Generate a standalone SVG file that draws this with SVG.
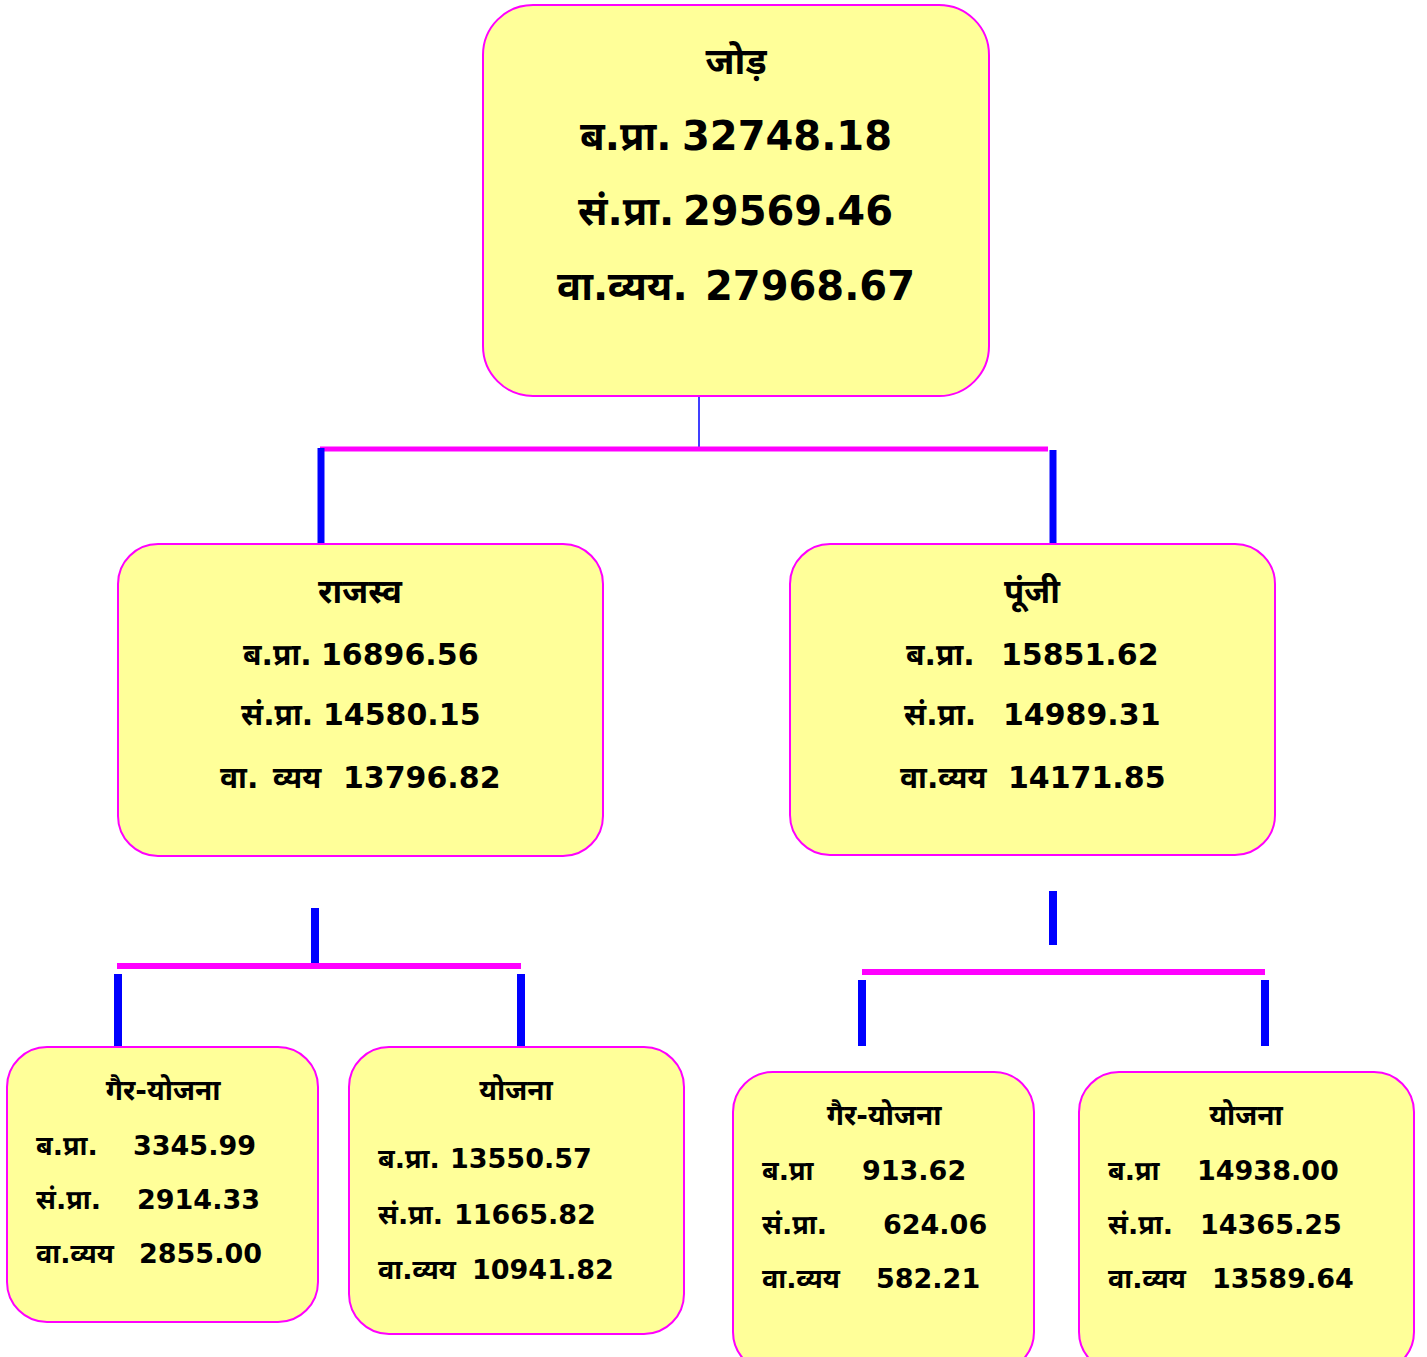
<svg xmlns="http://www.w3.org/2000/svg" width="1427" height="1357" viewBox="0 0 1427 1357">
<style>
.box{fill:#FFFF99;stroke:#FF00FF;stroke-width:2}
text{font-family:"DejaVu Sans","Noto Sans Devanagari","Noto Sans",sans-serif;font-weight:bold;fill:#000}
.t40{font-size:40px}
.t30{font-size:30px}
.t27{font-size:27px}
.h32{font-size:37px}
.h28{font-size:33px}
.h25{font-size:28px}
.mid{text-anchor:middle}
.blue{stroke:#0000FF;fill:none}
.mag{stroke:#FF00FF;fill:none}
</style>
<rect width="1427" height="1357" fill="#fff"/>
<g id="connectors">
<line class="blue" x1="699" y1="375" x2="699" y2="447" stroke-width="1.5"/>
<line class="mag" x1="320" y1="449" x2="1048" y2="449" stroke-width="5"/>
<line class="blue" x1="321" y1="448" x2="321" y2="544" stroke-width="7"/>
<line class="blue" x1="1053" y1="450" x2="1053" y2="544" stroke-width="7"/>
<line class="blue" x1="315" y1="908" x2="315" y2="966" stroke-width="8"/>
<line class="mag" x1="117" y1="966" x2="521" y2="966" stroke-width="6"/>
<line class="blue" x1="118" y1="974" x2="118" y2="1047" stroke-width="8"/>
<line class="blue" x1="521" y1="974" x2="521" y2="1047" stroke-width="8"/>
<line class="blue" x1="1053" y1="891" x2="1053" y2="945" stroke-width="8"/>
<line class="mag" x1="862" y1="972" x2="1265" y2="972" stroke-width="6"/>
<line class="blue" x1="862" y1="980" x2="862" y2="1046" stroke-width="8"/>
<line class="blue" x1="1265" y1="980" x2="1265" y2="1046" stroke-width="8"/>
</g>
<g id="total">
<rect class="box" x="483" y="5" width="506" height="391" rx="50"/>
<text class="h32 mid" x="736" y="74">जोड़</text>
<text class="t40" x="580" y="150">ब.प्रा.</text><text class="t40" x="682" y="150">32748.18</text>
<text class="t40" x="578" y="225">सं.प्रा.</text><text class="t40" x="683" y="225">29569.46</text>
<text class="t40" x="557" y="300">वा.व्यय.</text><text class="t40" x="705" y="300">27968.67</text>
</g>
<g id="revenue">
<rect class="box" x="118" y="544" width="485" height="312" rx="40"/>
<text class="h28 mid" x="360" y="603">राजस्व</text>
<text class="t30" x="243" y="665">ब.प्रा.</text><text class="t30" x="321" y="665">16896.56</text>
<text class="t30" x="241" y="725">सं.प्रा.</text><text class="t30" x="323" y="725">14580.15</text>
<text class="t30" x="220" y="788">वा.</text><text class="t30" x="273" y="788">व्यय</text><text class="t30" x="343" y="788">13796.82</text>
</g>
<g id="capital">
<rect class="box" x="790" y="544" width="485" height="311" rx="40"/>
<text class="h28 mid" x="1032" y="603">पूंजी</text>
<text class="t30" x="906" y="665">ब.प्रा.</text><text class="t30" x="1001" y="665">15851.62</text>
<text class="t30" x="904" y="725">सं.प्रा.</text><text class="t30" x="1003" y="725">14989.31</text>
<text class="t30" x="900" y="788">वा.व्यय</text><text class="t30" x="1008" y="788">14171.85</text>
</g>
<g id="rev-nonplan">
<rect class="box" x="7" y="1047" width="311" height="275" rx="40"/>
<text class="h25 mid" x="163" y="1100">गैर-योजना</text>
<text class="t27" x="36" y="1155">ब.प्रा.</text><text class="t27" x="133" y="1155">3345.99</text>
<text class="t27" x="36" y="1209">सं.प्रा.</text><text class="t27" x="137" y="1209">2914.33</text>
<text class="t27" x="36" y="1263">वा.व्यय</text><text class="t27" x="139" y="1263">2855.00</text>
</g>
<g id="rev-plan">
<rect class="box" x="349" y="1047" width="335" height="287" rx="40"/>
<text class="h25 mid" x="516" y="1100">योजना</text>
<text class="t27" x="378" y="1168">ब.प्रा.</text><text class="t27" x="450" y="1168">13550.57</text>
<text class="t27" x="378" y="1224">सं.प्रा.</text><text class="t27" x="454" y="1224">11665.82</text>
<text class="t27" x="378" y="1279">वा.व्यय</text><text class="t27" x="472" y="1279">10941.82</text>
</g>
<g id="cap-nonplan">
<rect class="box" x="733" y="1072" width="301" height="300" rx="40"/>
<text class="h25 mid" x="884" y="1125">गैर-योजना</text>
<text class="t27" x="762" y="1180">ब.प्रा</text><text class="t27" x="862" y="1180">913.62</text>
<text class="t27" x="762" y="1234">सं.प्रा.</text><text class="t27" x="883" y="1234">624.06</text>
<text class="t27" x="762" y="1288">वा.व्यय</text><text class="t27" x="876" y="1288">582.21</text>
</g>
<g id="cap-plan">
<rect class="box" x="1079" y="1072" width="335" height="300" rx="40"/>
<text class="h25 mid" x="1246" y="1125">योजना</text>
<text class="t27" x="1108" y="1180">ब.प्रा</text><text class="t27" x="1197" y="1180">14938.00</text>
<text class="t27" x="1108" y="1234">सं.प्रा.</text><text class="t27" x="1200" y="1234">14365.25</text>
<text class="t27" x="1108" y="1288">वा.व्यय</text><text class="t27" x="1212" y="1288">13589.64</text>
</g>
</svg>
